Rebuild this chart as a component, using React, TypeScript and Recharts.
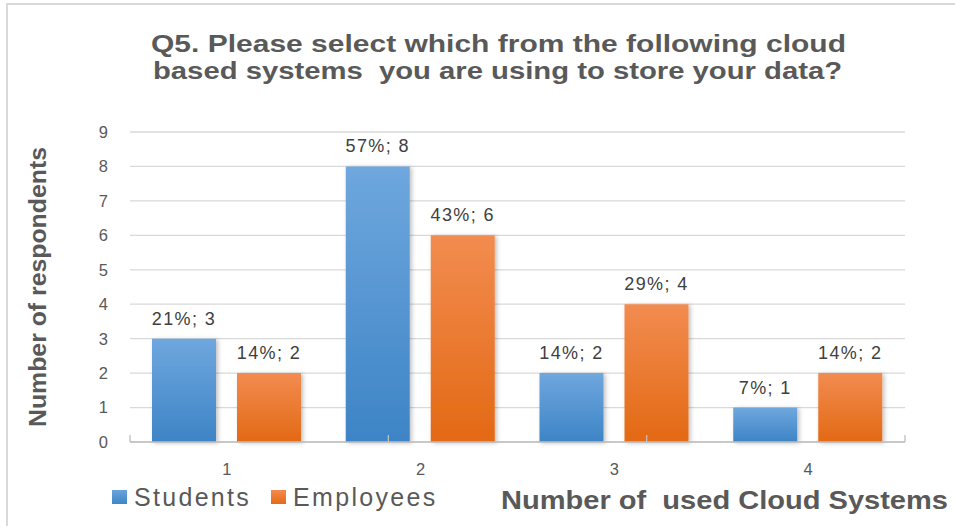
import React from 'react';
import { BarChart, Bar, XAxis, YAxis, CartesianGrid, LabelList } from 'recharts';

const categories = ['1', '2', '3', '4'];
const students = [3, 8, 2, 1];
const employees = [2, 6, 4, 2];
const studentShare = ['21%', '57%', '14%', '7%'];
const employeeShare = ['14%', '43%', '29%', '14%'];
const seriesNames = ['Students', 'Employees'];
const yTicks = [0, 1, 2, 3, 4, 5, 6, 7, 8, 9];
const edgeTicks = [0, 1, 2, 3, 4];

const titleLines = [
    'Q5. Please select which from the following cloud',
    'based systems  you are using to store your data?',
];
const yTitle = 'Number of respondents';
const xTitle = 'Number of  used Cloud Systems';

const FONT = '"Liberation Sans", Arial, sans-serif';
const TEXT = '#595959';

const data = categories.map((cat, i) => ({
    cat,
    students: students[i],
    employees: employees[i],
    studentsLabel: `${studentShare[i]}; ${students[i]}`,
    employeesLabel: `${employeeShare[i]}; ${employees[i]}`,
}));

const BarLabel = (props: any) => {
    const { x, y, width, value } = props;
    return (
        <text
            x={Number(x) + Number(width) / 2}
            y={Number(y) - 14}
            textAnchor="middle"
            fill="#404040"
            fontSize={18}
            letterSpacing={1.4}
            fontFamily={FONT}
        >
            {value}
        </text>
    );
};

const LegendBox = () => (
    <div
        style={{
            position: 'absolute',
            left: 112,
            top: 484,
            display: 'flex',
            alignItems: 'center',
            fontFamily: FONT,
            fontSize: 25,
            letterSpacing: 2.3,
            color: TEXT,
            lineHeight: '26px',
        }}
    >
        {seriesNames.map((name, i) => (
            <div key={name} style={{ display: 'flex', alignItems: 'center', marginRight: 20 }}>
                <span
                    style={{
                        display: 'inline-block',
                        width: 15,
                        height: 14,
                        marginRight: 7,
                        background: i === 0
                            ? 'linear-gradient(#6aa3dc, #3f86c8)'
                            : 'linear-gradient(#f28b4e, #e46a16)',
                    }}
                />
                <span>{name}</span>
            </div>
        ))}
    </div>
);

export default function App() {
    return (
        <div style={{ position: 'absolute', left: 0, top: 0, width: 955, height: 526, background: '#fff', overflow: 'hidden' }}>
            {/* frame */}
            <div style={{ position: 'absolute', left: 6, top: 3, width: 980, height: 560, borderLeft: '2px solid #d9d9d9', borderTop: '2px solid #d9d9d9' }} />
            <BarChart
                width={955}
                height={526}
                data={data}
                margin={{ top: 132, right: 50, bottom: 54, left: 90 }}
                barCategoryGap={22}
                barGap={21}
            >
                <defs>
                    <linearGradient id="gradBlue" x1="0" y1="0" x2="0" y2="1">
                        <stop offset="0%" stopColor="#6fa7de" />
                        <stop offset="100%" stopColor="#3d84c6" />
                    </linearGradient>
                    <linearGradient id="gradOrange" x1="0" y1="0" x2="0" y2="1">
                        <stop offset="0%" stopColor="#f28c50" />
                        <stop offset="100%" stopColor="#e36914" />
                    </linearGradient>
                    <filter id="barShadow" x="-20%" y="-20%" width="140%" height="140%">
                        <feDropShadow dx="2" dy="1" stdDeviation="2" floodColor="#000" floodOpacity="0.25" />
                    </filter>
                </defs>
                <CartesianGrid vertical={false} stroke="#d9d9d9" strokeWidth={1.3} />
                {/* small marks at the category boundaries, pointing up */}
                <XAxis
                    xAxisId="edge"
                    type="number"
                    domain={[0, 4]}
                    ticks={edgeTicks}
                    interval={0}
                    height={1}
                    mirror
                    allowDataOverflow
                    axisLine={false}
                    tick={{ fontSize: 0, fill: 'none' }}
                    tickFormatter={() => ''}
                    tickSize={7}
                    tickLine={{ stroke: '#bfbfbf', strokeWidth: 1.3 }}
                />
                <XAxis
                    dataKey="cat"
                    height={30}
                    interval={0}
                    axisLine={{ stroke: '#bfbfbf', strokeWidth: 1.5 }}
                    tickLine={false}
                    tickSize={0}
                    tickMargin={21}
                    tick={{ fill: TEXT, fontSize: 16.5, fontFamily: FONT }}
                />
                <YAxis
                    width={40}
                    domain={[0, 9]}
                    ticks={yTicks}
                    interval={0}
                    axisLine={false}
                    tickLine={false}
                    tickSize={0}
                    tickMargin={22}
                    tick={{ fill: TEXT, fontSize: 16.5, fontFamily: FONT }}
                />
                <Bar dataKey="students" name={seriesNames[0]} fill="url(#gradBlue)" filter="url(#barShadow)" isAnimationActive={false}>
                    <LabelList dataKey="studentsLabel" content={BarLabel} />
                </Bar>
                <Bar dataKey="employees" name={seriesNames[1]} fill="url(#gradOrange)" filter="url(#barShadow)" isAnimationActive={false}>
                    <LabelList dataKey="employeesLabel" content={BarLabel} />
                </Bar>
            </BarChart>
            {/* titles */}
            <svg width={955} height={526} style={{ position: 'absolute', left: 0, top: 0, pointerEvents: 'none' }}>
                <g fontFamily={FONT} fontWeight="bold" fill={TEXT}>
                    <text x={151} y={52} fontSize={23} textLength={695} lengthAdjust="spacingAndGlyphs">{titleLines[0]}</text>
                    <text x={153} y={79} fontSize={23} textLength={689} lengthAdjust="spacingAndGlyphs" style={{ whiteSpace: 'pre' }}>{titleLines[1]}</text>
                    <text
                        transform="translate(46,287) rotate(-90)"
                        textAnchor="middle"
                        fontSize={23}
                        textLength={280}
                        lengthAdjust="spacingAndGlyphs"
                    >
                        {yTitle}
                    </text>
                    <text x={501} y={509} fontSize={25} textLength={447} lengthAdjust="spacingAndGlyphs" style={{ whiteSpace: 'pre' }}>{xTitle}</text>
                </g>
            </svg>
            <LegendBox />
        </div>
    );
}
